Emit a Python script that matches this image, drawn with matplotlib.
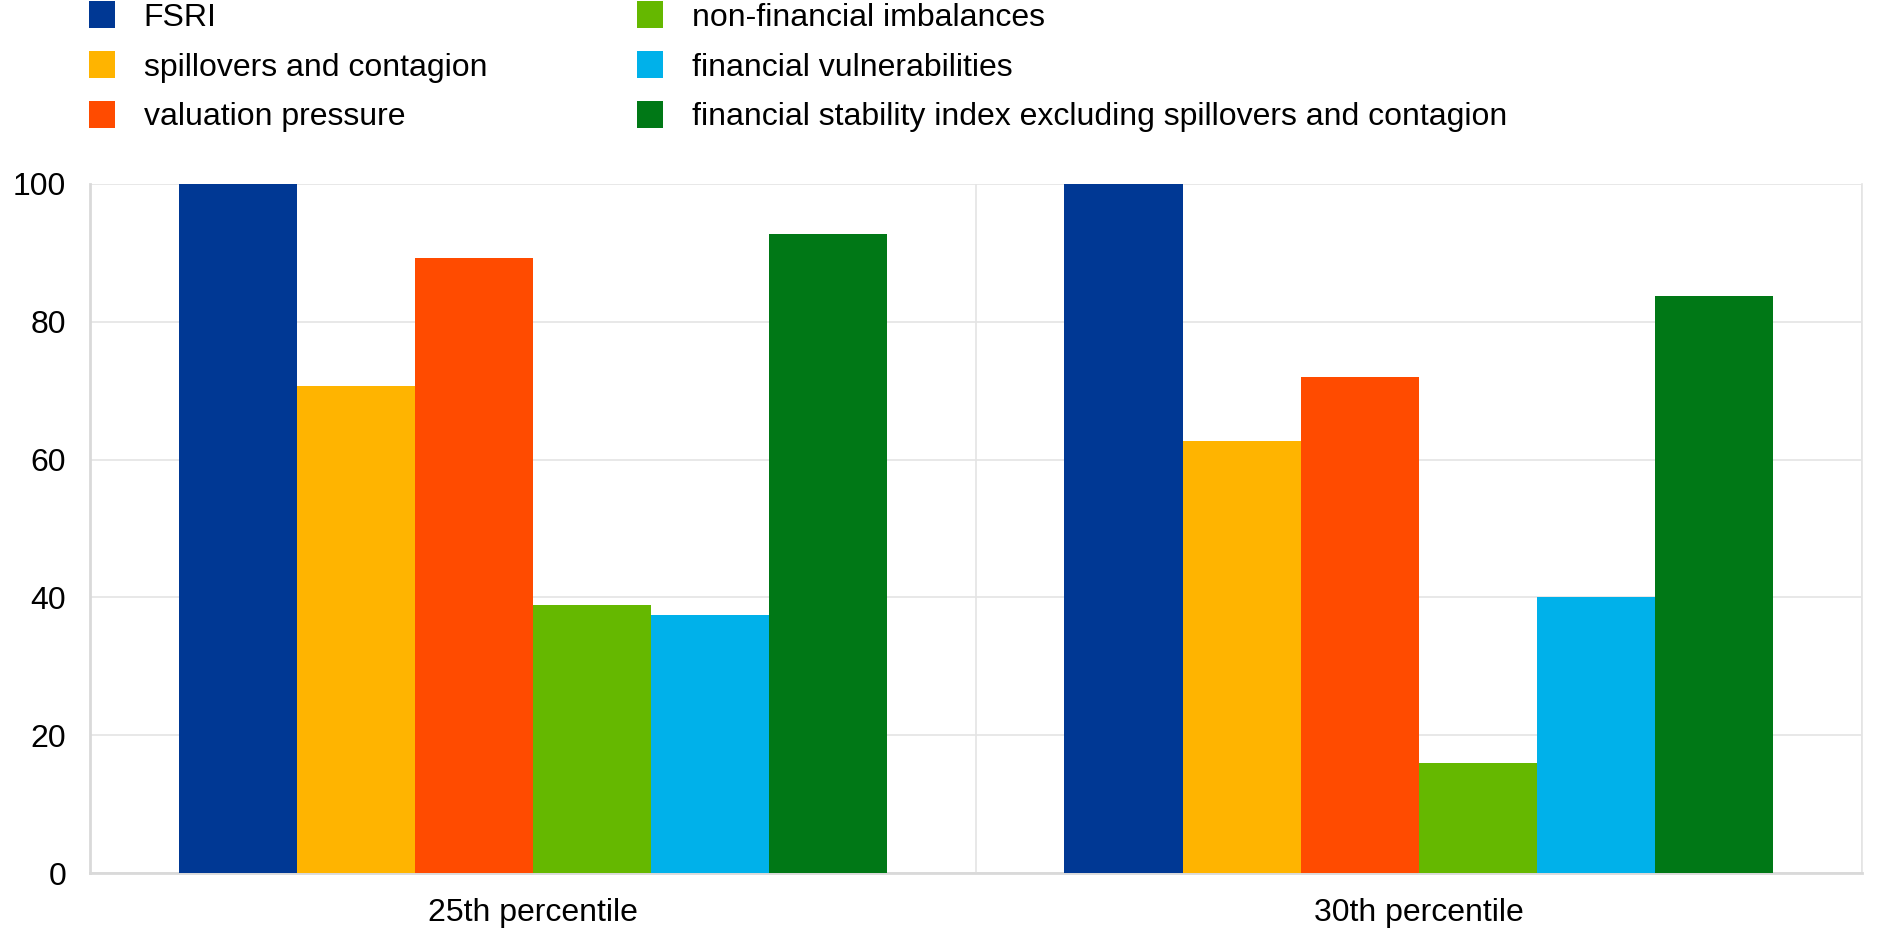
import numpy as np
import matplotlib.pyplot as plt
from matplotlib.patches import Patch

plt.rcParams['font.family'] = ['Liberation Sans', 'DejaVu Sans']

categories = ['25th percentile', '30th percentile']
series = ['FSRI', 'spillovers and contagion', 'valuation pressure',
          'non-financial imbalances', 'financial vulnerabilities',
          'financial stability index excluding spillovers and contagion']
fsri = [100.0, 100.0]
spillovers = [70.7, 62.7]
valuation = [89.3, 72.0]
nonfin = [38.9, 15.9]
finvuln = [37.5, 40.1]
excl_spill = [92.8, 83.7]
colors = ['#003894', '#FFB400', '#FF4B00', '#65B800', '#00B1EA', '#007816']

values = [fsri, spillovers, valuation, nonfin, finvuln, excl_spill]

fig = plt.figure(figsize=(18.9, 9.43), dpi=100)
ax = fig.add_axes([0.0476, 0.0742, 0.9374, 0.7308])

ind = np.arange(len(categories))
width = 0.8 / len(series)
for i, (vals, col) in enumerate(zip(values, colors)):
    ax.bar(ind + (i - 2.5) * width, vals, width, color=col, linewidth=0, zorder=3)

ax.set_xlim(-0.5, 1.5)
ax.set_ylim(0, 100)
ax.set_yticks(np.arange(0, 101, 20))
ax.set_xticks(ind)
ax.set_xticklabels(categories)
ax.set_xticks([0.5, 1.5], minor=True)
ax.tick_params(axis='both', which='both', length=0, labelsize=23)
ax.tick_params(axis='y', pad=17)
ax.tick_params(axis='x', pad=18)
ax.grid(axis='y', color='#e4e4e4', linewidth=1.2, zorder=0)
ax.grid(axis='x', which='minor', color='#e4e4e4', linewidth=1.2, zorder=0)
ax.set_axisbelow(True)
ax.spines['top'].set_visible(False)
ax.spines['right'].set_color('#e4e4e4')
ax.spines['right'].set_linewidth(1.2)
ax.spines['left'].set_color('#d9d9d9')
ax.spines['bottom'].set_color('#d9d9d9')
ax.spines['left'].set_linewidth(2)
ax.spines['bottom'].set_linewidth(2)

handles = [Patch(facecolor=c, edgecolor='none', label=l) for c, l in zip(colors, series)]
fig.legend(handles=handles, ncol=2, loc='upper left', bbox_to_anchor=(0.0405, 1.012),
           frameon=False, fontsize=23, handlelength=0.8, handleheight=0.9,
           handletextpad=0.9, labelspacing=0.58, columnspacing=4.7,
           borderaxespad=0)

plt.savefig('out.png')
plt.close()
